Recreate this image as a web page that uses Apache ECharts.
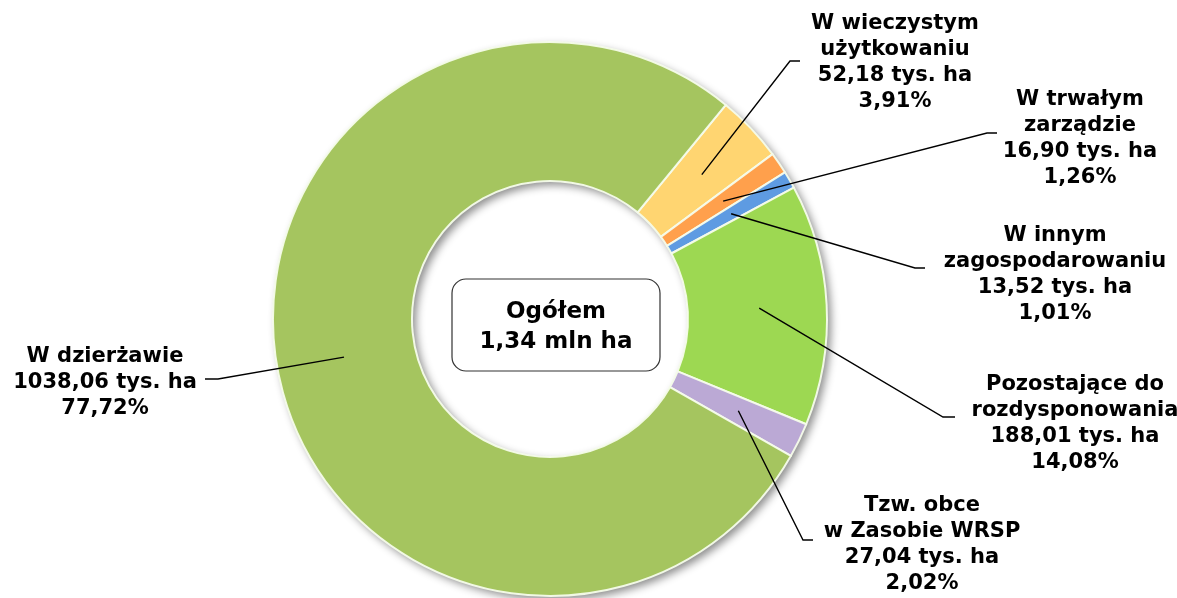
<!DOCTYPE html>
<html>
<head>
<meta charset="utf-8">
<script src="https://cdn.jsdelivr.net/npm/echarts@6/dist/echarts.min.js"></script>
<style>
  html, body { margin: 0; padding: 0; background: #fff; }
  #chart { width: 1177px; height: 598px; }
</style>
</head>
<body>
<div id="chart"></div>
<script>
// dane (tys. ha) - kolejność zgodnie z ruchem wskazówek zegara
var names = ['W wieczystym\nużytkowaniu', 'W trwałym\nzarządzie', 'W innym\nzagospodarowaniu',
  'Pozostające do\nrozdysponowania', 'Tzw. obce\nw Zasobie WRSP', 'W dzierżawie'];
var values = [52.18, 16.90, 13.52, 188.01, 27.04, 1038.06];
var percents = ['3,91', '1,26', '1,01', '14,08', '2,02', '77,72'];
var colors = ['#FFD571', '#FFA04C', '#5E9BE2', '#9DD852', '#BBA9D5', '#A5C55F'];
var totalText = 'Ogółem\n1,34 mln ha';

// układ
var cx = 550, cy = 319, rIn = 138, rOut = 277;
var startAngle = 50.6;
// środek bloku etykiety i punkty łamania linii
var labelPos = [[895, 63], [1080, 139], [1055, 275], [1075, 424], [922, 545], [105, 383]];
var elbows = [
  [[790, 61], [800, 61]],
  [[987, 133], [997, 133]],
  [[915, 268], [925, 268]],
  [[943, 417], [955, 417]],
  [[803, 540], [813, 540]],
  [[218, 379], [205, 379]]
];

var total = values.reduce(function (a, b) { return a + b; }, 0);
// punkt w połowie pierścienia, na środku kąta wycinka
function midPoint(idx) {
  var before = 0;
  for (var i = 0; i < idx; i++) before += values[i];
  var mid = (before + values[idx] / 2) / total * 360; // zgodnie z zegarem
  var ang = (startAngle - mid) * Math.PI / 180;
  var r = (rIn + rOut) / 2 + 2;
  return [cx + r * Math.cos(ang), cy - r * Math.sin(ang)];
}

var data = names.map(function (n, i) {
  return { name: n, value: values[i], itemStyle: { color: colors[i] } };
});

// linie odniesienia od wnętrza wycinka do etykiety
var leaders = values.map(function (v, i) {
  return {
    type: 'polyline',
    z: 100,
    silent: true,
    shape: { points: [midPoint(i), elbows[i][0], elbows[i][1]] },
    style: { stroke: '#000', lineWidth: 1.4, fill: null }
  };
});

var chart = echarts.init(document.getElementById('chart'));
chart.setOption({
  backgroundColor: '#fff',
  animation: false,
  series: [{
    // pełny pierścień pod spodem - tylko dla cienia
    type: 'pie',
    z: 1,
    silent: true,
    center: [cx, cy],
    radius: [rIn, rOut],
    startAngle: startAngle,
    data: [{ name: 'suma', value: total }],
    itemStyle: {
      color: colors[5],
      shadowBlur: 8,
      shadowOffsetX: 4,
      shadowOffsetY: 4,
      shadowColor: 'rgba(0,0,0,0.45)'
    },
    label: { show: false },
    labelLine: { show: false },
    emphasis: { disabled: true }
  }, {
    type: 'pie',
    z: 2,
    center: [cx, cy],
    radius: [rIn, rOut],
    startAngle: startAngle,
    clockwise: true,
    avoidLabelOverlap: false,
    data: data,
    itemStyle: {
      borderColor: 'rgba(245,252,235,0.95)',
      borderWidth: 2
    },
    label: {
      show: true,
      position: 'outside',
      fontFamily: 'DejaVu Sans',
      fontWeight: 'bold',
      fontSize: 21,
      lineHeight: 26,
      color: '#000',
      align: 'center',
      formatter: function (p) {
        return p.name + '\n' + values[p.dataIndex].toFixed(2).replace('.', ',') +
          ' tys. ha\n' + percents[p.dataIndex] + '%';
      }
    },
    labelLine: { show: false },
    labelLayout: function (p) {
      var i = p.dataIndex;
      return {
        x: labelPos[i][0],
        y: labelPos[i][1],
        align: 'center',
        verticalAlign: 'middle'
      };
    },
    emphasis: { disabled: true }
  }],
  graphic: leaders.concat([{
    type: 'group',
    children: [{
      type: 'rect',
      shape: { x: 452, y: 279, width: 208, height: 92, r: 14 },
      style: { fill: '#fff', stroke: '#333', lineWidth: 1.2 }
    }, {
      type: 'text',
      x: 556,
      y: 327,
      style: {
        text: totalText,
        fill: '#000',
        font: 'bold 23px "DejaVu Sans"',
        lineHeight: 30,
        align: 'center',
        verticalAlign: 'middle'
      }
    }]
  }])
});
</script>
</body>
</html>
